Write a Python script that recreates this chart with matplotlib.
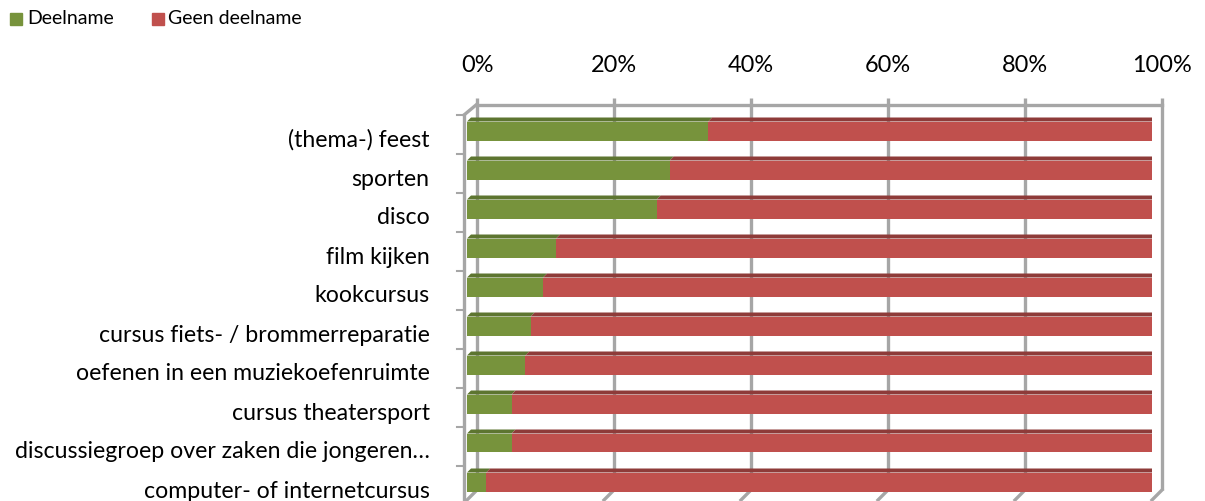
import matplotlib
matplotlib.use("Agg")
import matplotlib.pyplot as plt
from matplotlib.patches import Polygon
from matplotlib.transforms import ScaledTranslation

categories = ["(thema-) feest", "sporten", "disco", "film kijken", "kookcursus",
              "cursus fiets- / brommerreparatie", "oefenen in een muziekoefenruimte",
              "cursus theatersport", "discussiegroep over zaken die jongeren\u2026",
              "computer- of internetcursus"]
deelname = [35.2, 29.6, 27.7, 13.0, 11.1, 9.3, 8.5, 6.5, 6.5, 2.8]
geen_deelname = [100 - v for v in deelname]
series_names = ["Deelname", "Geen deelname"]
xticks = [0, 20, 40, 60, 80, 100]
xticklabels = ["0%", "20%", "40%", "60%", "80%", "100%"]

FONT = "Lato"
W, H = 1205, 501
fig = plt.figure(figsize=(W / 100, H / 100), dpi=100)

# axes: x 0..100 maps to px 467..1152 ; category i centre at py 131+39i
px0, px100 = 467, 1152
ax_top, ax_bot = 90, 501
ax = fig.add_axes([px0 / W, 1 - ax_bot / H, (px100 - px0) / W, (ax_bot - ax_top) / H])
ax.set_xlim(0, 100)
ax.set_ylim((ax_bot - 131) / 39, (ax_top - 131) / 39)
for s in ax.spines.values():
    s.set_visible(False)
ax.set_clip_on(False)

ux = 100 / (px100 - px0)   # data per px in x
uy = 1 / 39                # data per px in y

# wall depth offset
DX, DY = 10 * ux, -10 * uy
grid_c = "#A6A6A6"
yl_top = (105 - 131) * uy
yl_floor = (490 - 131) * uy
yl_front_bottom = (500 - 131) * uy
n = len(categories)

# back gridlines
for t in xticks:
    ax.plot([t + DX, t + DX], [(98 - 131) * uy, yl_floor], color=grid_c, lw=2.4,
            solid_capstyle="butt", clip_on=False, zorder=1)
    ax.plot([t + DX, t], [yl_floor, yl_front_bottom], color=grid_c, lw=2.4,
            clip_on=False, zorder=1)
# top back line
ax.plot([DX, 100 + DX], [yl_top, yl_top], color=grid_c, lw=2.4, clip_on=False, zorder=1)
# left front wall line with connector
lx = -3 * ux
ax.plot([lx, DX - ux], [(115 - 131) * uy, yl_top], color=grid_c, lw=2.4, clip_on=False, zorder=1)
ax.plot([lx, lx], [(115 - 131) * uy, (501 - 131) * uy], color=grid_c, lw=2.4, clip_on=False, zorder=1)
# left tick marks at category boundaries
for i in range(n + 1):
    yb = i - 0.5 + 3.5 * uy
    ax.plot([lx - 7 * ux, lx], [yb, yb], color=grid_c, lw=1.5, clip_on=False, zorder=1)

# bars
green, green_top = "#77933C", "#5D7530"
red, red_top = "#C0504D", "#8E3B39"
h = 19 / 39
ys = list(range(n))
ax.barh(ys, deelname, height=h, left=0, color=green, zorder=3, label=series_names[0])
ax.barh(ys, geen_deelname, height=h, left=deelname, color=red, zorder=3, label=series_names[1])
dx, dy = 4 * ux, -4 * uy
for i in ys:
    top = i - h / 2
    bot = i + h / 2
    g = deelname[i]
    ax.add_patch(Polygon([(0, top), (dx, top + dy), (g + dx, top + dy), (g, top)],
                         closed=True, color=green_top, zorder=3, lw=0))
    ax.add_patch(Polygon([(g, top), (g + dx, top + dy), (100 + dx, top + dy), (100, top)],
                         closed=True, color=red_top, zorder=3, lw=0))
    ax.add_patch(Polygon([(100, top), (100 + dx, top + dy), (100 + dx, bot + dy), (100, bot)],
                         closed=True, color=red_top, zorder=3, lw=0))

# y labels
ax.set_yticks(ys)
ax.set_yticklabels(categories, fontsize=16.7, fontfamily=FONT, color="#000000")
ax.tick_params(axis="y", length=0, pad=27)
off = ScaledTranslation(0, -7 / 100, fig.dpi_scale_trans)
for lab in ax.get_yticklabels():
    lab.set_transform(lab.get_transform() + off)

# x labels on top (over back gridlines)
ax.set_xticks([])
for t, lab in zip(xticks, xticklabels):
    ax.text(t + DX, (66 - 131) * uy, lab, ha="center", va="center", fontsize=16.9,
            fontfamily=FONT, color="#000000", clip_on=False)

# legend
fig.patches.append(plt.Rectangle((10 / W, 1 - 25 / H), 12 / W, 12 / H, color=green,
                                 transform=fig.transFigure))
fig.text(27 / W, 1 - 19 / H, series_names[0], ha="left", va="center", fontsize=14,
         fontfamily=FONT)
fig.patches.append(plt.Rectangle((152 / W, 1 - 25 / H), 12 / W, 12 / H, color=red,
                                 transform=fig.transFigure))
fig.text(168 / W, 1 - 19 / H, series_names[1], ha="left", va="center", fontsize=14,
         fontfamily=FONT)

fig.savefig("out.png", dpi=100, facecolor="white")
